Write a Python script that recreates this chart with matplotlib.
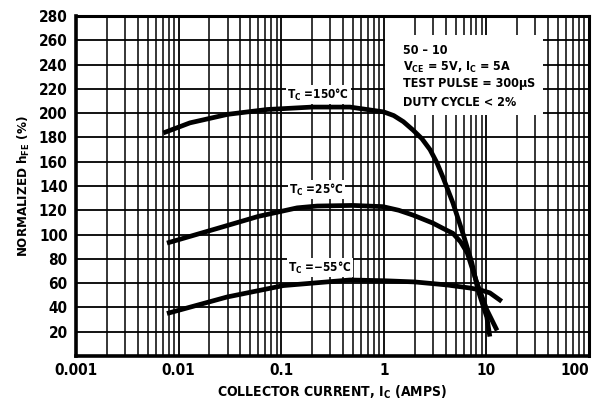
import matplotlib
matplotlib.use("Agg")
import matplotlib.pyplot as plt
from matplotlib.ticker import LogLocator, FixedLocator, NullFormatter
from matplotlib.patches import Rectangle

# Data
ic_150 = [0.0071, 0.0129, 0.03, 0.073, 0.2, 0.468, 1.0, 1.25, 1.55, 1.93, 2.35, 2.82, 3.3, 3.78, 4.72, 5.9, 7.2, 8.3, 10.1, 10.8]
hfe_150 = [183.7, 192, 199, 203, 205, 205, 201, 198, 193, 186, 179, 170, 159, 147, 126, 101, 77, 54, 32, 16]

ic_25 = [0.0077, 0.0237, 0.06, 0.143, 0.224, 0.5, 0.98, 1.4, 1.93, 3.0, 4.0, 4.72, 5.6, 6.5, 8.1, 10.1, 12.7]
hfe_25 = [93, 105, 115, 122, 123.5, 124, 123, 120, 116, 109.5, 104, 101, 94, 85, 60, 38, 21]

ic_m55 = [0.0077, 0.0297, 0.105, 0.468, 1.0, 2.0, 4.13, 6.9, 8.7, 10.8, 14.1]
hfe_m55 = [35, 48.6, 58, 62.6, 62, 61, 58.5, 56, 54.4, 52, 45]

y_ticks = [20, 40, 60, 80, 100, 120, 140, 160, 180, 200, 220, 240, 260, 280]
x_ticks = [0.001, 0.01, 0.1, 1, 10, 100]
x_ticklabels = ["0.001", "0.01", "0.1", "1", "10", "100"]

FONT = dict(family="DejaVu Sans", stretch="condensed", weight="bold")

fig = plt.figure(figsize=(5.97, 4.09), dpi=100)
ax = fig.add_axes([76/597, 53/409, (589-76)/597, (356-16)/409])

ax.set_xscale("log")
ax.set_xlim(0.001, 100)
ax.set_ylim(0, 280)

ax.xaxis.set_major_locator(FixedLocator(x_ticks))
ax.set_xticklabels(x_ticklabels)
ax.xaxis.set_minor_locator(LogLocator(base=10, subs=range(2, 10), numticks=20))
ax.xaxis.set_minor_formatter(NullFormatter())
ax.set_yticks(y_ticks)

ax.grid(True, which="major", axis="both", color="black", linewidth=1.3)
ax.grid(True, which="minor", axis="x", color="black", linewidth=1.1)
ax.set_axisbelow(True)
ax.tick_params(which="both", length=0, labelsize=11)
ax.tick_params(axis="x", pad=5)
ax.tick_params(axis="y", pad=6)
for lab in ax.get_xticklabels() + ax.get_yticklabels():
    lab.set_fontweight("bold")
    lab.set_fontstretch("condensed")
xl = ax.get_xticklabels()
xl[-1].set_horizontalalignment("right")

for side, lw in [("left", 2.6), ("bottom", 2.6), ("top", 2.2), ("right", 2.2)]:
    ax.spines[side].set_linewidth(lw)
    ax.spines[side].set_color("black")

# annotation box (white, hides the grid)
ax.add_patch(Rectangle(((385-76)/513, (356-115)/340), (543-385)/513, (115-35)/340,
                       transform=ax.transAxes, facecolor="white", edgecolor="none", zorder=2))
tx = (403-76)/513
lines = ["50 – 10", r"V$_{\mathregular{CE}}$ = 5V, I$_{\mathregular{C}}$ = 5A",
         "TEST PULSE = 300µS", "DUTY CYCLE < 2%"]
ys = [50, 67, 84, 102]
for s, yy in zip(lines, ys):
    ax.text(tx, (356-yy)/340, s, transform=ax.transAxes, fontsize=9,
            va="center", ha="left", zorder=3, **FONT)

for xs, ys_ in [(ic_150, hfe_150), (ic_25, hfe_25), (ic_m55, hfe_m55)]:
    ax.plot(xs, ys_, color="black", linewidth=3.4, solid_capstyle="butt",
            solid_joinstyle="round", zorder=4)

lbl_kw = dict(fontsize=8.5, ha="center", va="center", zorder=5,
              bbox=dict(facecolor="white", edgecolor="none", pad=1.0), **FONT)
ax.text(0.229, 215, r"T$_{\mathregular{C}}$ =150°C", **lbl_kw)
ax.text(0.22, 137, r"T$_{\mathregular{C}}$ =25°C", **lbl_kw)
ax.text(0.24, 72.5, r"T$_{\mathregular{C}}$ =−55°C", **lbl_kw)

ax.set_xlabel(r"COLLECTOR CURRENT, I$_{\mathregular{C}}$ (AMPS)", fontsize=10, labelpad=4, **FONT)
ax.set_ylabel(r"NORMALIZED h$_{\mathregular{FE}}$ (%)", fontsize=9.5, labelpad=5, **FONT)

fig.savefig("out.png", dpi=100, facecolor="white")
